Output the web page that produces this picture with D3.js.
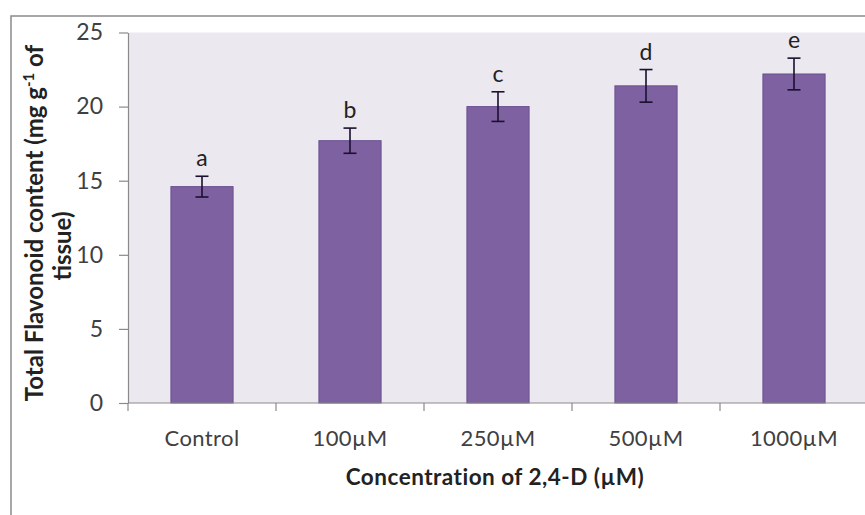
<!DOCTYPE html>
<html>
<head>
<meta charset="utf-8">
<script src="https://cdn.jsdelivr.net/npm/d3@7"></script>
<style>
  html, body { margin: 0; padding: 0; background: #fff; }
  svg { display: block; }
  text { font-family: Lato, "Open Sans", sans-serif; }
</style>
</head>
<body>
<script>
// ---- data ----
const categories = ["Control", "100\u00B5M", "250\u00B5M", "500\u00B5M", "1000\u00B5M"];
const values = [14.6, 17.7, 20.0, 21.4, 22.2];
const errors = [0.7, 0.85, 1.0, 1.1, 1.07];
const letters = ["a", "b", "c", "d", "e"];
const yTicks = [0, 5, 10, 15, 20, 25];
const xTitle = "Concentration of 2,4-D (\u00B5M)";
const yTitle1 = ["Total Flavonoid content (mg g", "-1", " of"];
const yTitle2 = "tissue)";

// ---- layout ----
const W = 865, H = 515;
const plot = { left: 128, right: 868, top: 32.5, bottom: 403 };

const svg = d3.select("body").append("svg").attr("width", W).attr("height", H);

// outer chart frame (extends past the window on right/bottom)
svg.append("rect")
  .attr("x", 11).attr("y", 16)
  .attr("width", 900).attr("height", 520)
  .attr("fill", "#fff")
  .attr("stroke", "#8a8a8a").attr("stroke-width", 1.5);

const x = d3.scaleBand().domain(categories)
  .range([plot.left, plot.right]).paddingInner(0.58).paddingOuter(0.29);
const y = d3.scaleLinear().domain([0, 25]).range([plot.bottom, plot.top]);

// plot background
svg.append("rect")
  .attr("x", plot.left).attr("y", y(25))
  .attr("width", plot.right - plot.left).attr("height", y(0) - y(25))
  .attr("fill", "#ece8ef");

// bars
svg.append("g").selectAll("rect").data(values).join("rect")
  .attr("x", (d, i) => x(categories[i]))
  .attr("y", d => y(d))
  .attr("width", x.bandwidth())
  .attr("height", d => y(0) - y(d))
  .attr("fill", "#7e61a1")
  .attr("stroke", "#6a5090").attr("stroke-width", 1);

// error bars
const eg = svg.append("g").attr("stroke", "#1a1030").attr("stroke-width", 1.6);
values.forEach((v, i) => {
  const cx = x(categories[i]) + x.bandwidth() / 2;
  const e = errors[i];
  eg.append("line").attr("x1", cx).attr("x2", cx).attr("y1", y(v + e)).attr("y2", y(v - e));
  eg.append("line").attr("x1", cx - 6.5).attr("x2", cx + 6.5).attr("y1", y(v + e)).attr("y2", y(v + e));
  eg.append("line").attr("x1", cx - 6.5).attr("x2", cx + 6.5).attr("y1", y(v - e)).attr("y2", y(v - e));
});

// significance letters
svg.append("g").selectAll("text").data(letters).join("text")
  .attr("x", (d, i) => x(categories[i]) + x.bandwidth() / 2)
  .attr("y", (d, i) => y(values[i] + errors[i]) - 10)
  .attr("text-anchor", "middle")
  .attr("font-size", 23).attr("fill", "#222")
  .text(d => d);

// y axis
const yAxis = d3.axisLeft(y).tickValues(yTicks).tickSize(9).tickSizeOuter(0).tickPadding(16);
const yg = svg.append("g").attr("transform", `translate(${plot.left},0)`).call(yAxis);
yg.select(".domain").attr("stroke", "#8a8a8a").attr("stroke-width", 1.2);
yg.selectAll(".tick line").attr("stroke", "#8a8a8a").attr("stroke-width", 1.2);
yg.selectAll(".tick text").attr("font-size", 23).attr("fill", "#404040")
  .attr("font-family", "Lato, sans-serif");

// x axis
const step = x.step();
const boundaries = d3.range(categories.length + 1).map(i => plot.left + i * step);
const xg = svg.append("g");
xg.append("line").attr("x1", plot.left).attr("x2", plot.right)
  .attr("y1", y(0)).attr("y2", y(0)).attr("stroke", "#8a8a8a").attr("stroke-width", 1.2);
xg.selectAll("line.tk").data(boundaries).join("line").attr("class", "tk")
  .attr("x1", d => d).attr("x2", d => d)
  .attr("y1", y(0)).attr("y2", y(0) + 8)
  .attr("stroke", "#8a8a8a").attr("stroke-width", 1.2);
xg.selectAll("text").data(categories).join("text")
  .attr("x", d => x(d) + x.bandwidth() / 2)
  .attr("y", 446)
  .attr("text-anchor", "middle")
  .attr("font-size", 22).attr("fill", "#404040")
  .attr("letter-spacing", 0.4)
  .text(d => d);

// x title
svg.append("text")
  .attr("x", 495).attr("y", 485)
  .attr("text-anchor", "middle")
  .attr("font-size", 22.5).attr("font-weight", "bold").attr("fill", "#222")
  .attr("letter-spacing", 0.5)
  .text(xTitle);

// y title
const t1 = svg.append("text")
  .attr("transform", "translate(43,223) rotate(-90)")
  .attr("text-anchor", "middle")
  .attr("font-size", 24).attr("font-weight", "bold").attr("fill", "#222");
t1.append("tspan").text(yTitle1[0]);
t1.append("tspan").attr("font-size", 15).attr("dy", -9).text(yTitle1[1]);
t1.append("tspan").attr("dy", 9).text(yTitle1[2]);

svg.append("text")
  .attr("transform", "translate(71,246) rotate(-90)")
  .attr("text-anchor", "middle")
  .attr("font-size", 24).attr("font-weight", "bold").attr("fill", "#222")
  .text(yTitle2);
</script>
</body>
</html>
